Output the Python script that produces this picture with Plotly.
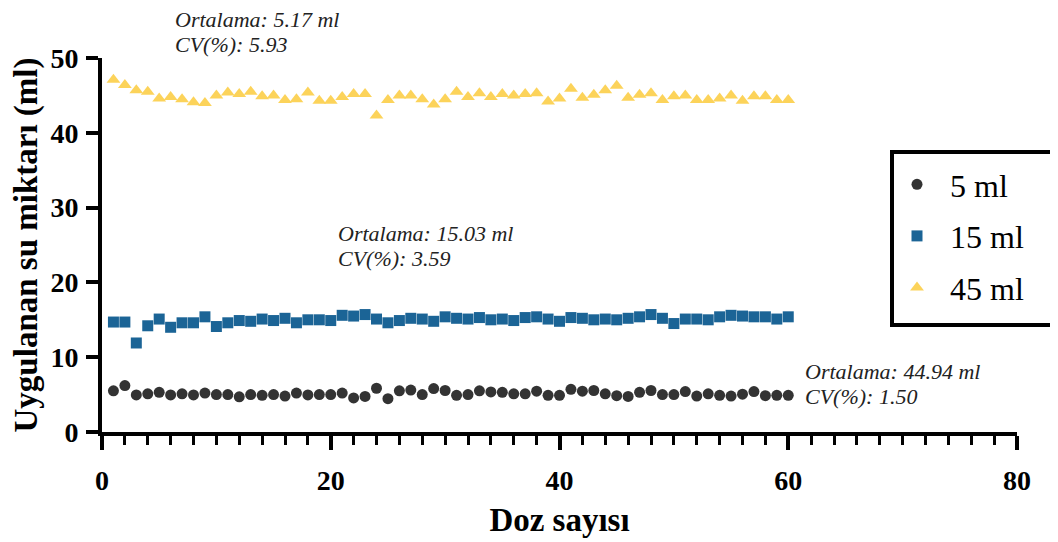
import plotly.graph_objects as go

doses = list(range(1, 61))

vals_5ml = [5.5, 6.2, 4.95, 5.1, 5.3, 4.95, 5.1, 4.95, 5.2, 5.0,
            5.0, 4.7, 5.0, 4.9, 5.0, 4.8, 5.2, 4.95, 5.0, 5.0,
            5.2, 4.55, 4.75, 5.85, 4.45, 5.5, 5.6, 5.0, 5.8, 5.55,
            4.9, 5.0, 5.5, 5.35, 5.3, 5.1, 5.1, 5.45, 4.9, 4.9,
            5.7, 5.45, 5.55, 5.1, 4.85, 4.75, 5.3, 5.55, 5.0, 5.0,
            5.4, 4.8, 5.1, 4.9, 4.8, 5.05, 5.4, 4.85, 4.9, 4.9]

vals_15ml = [14.7, 14.7, 11.9, 14.2, 15.1, 14.0, 14.6, 14.6, 15.4, 14.1,
             14.6, 14.9, 14.8, 15.1, 14.9, 15.2, 14.6, 15.0, 15.0, 14.9,
             15.6, 15.5, 15.7, 15.1, 14.6, 14.9, 15.2, 15.1, 14.8, 15.4,
             15.2, 15.1, 15.3, 15.0, 15.1, 14.9, 15.3, 15.4, 15.1, 14.8,
             15.3, 15.2, 15.0, 15.1, 15.0, 15.2, 15.4, 15.7, 15.2, 14.5,
             15.1, 15.1, 15.0, 15.4, 15.6, 15.5, 15.4, 15.4, 15.1, 15.4]

vals_45ml = [47.1, 46.4, 45.7, 45.5, 44.6, 44.8, 44.5, 44.1, 44.0, 45.0,
             45.4, 45.2, 45.5, 44.9, 45.0, 44.4, 44.5, 45.4, 44.3, 44.3,
             44.8, 45.2, 45.2, 42.3, 44.4, 45.0, 45.0, 44.5, 43.8, 44.5,
             45.5, 44.8, 45.3, 44.8, 45.2, 45.0, 45.2, 45.3, 44.2, 44.6,
             45.9, 44.7, 45.1, 45.7, 46.3, 44.7, 45.1, 45.3, 44.4, 44.9,
             45.0, 44.4, 44.4, 44.6, 45.0, 44.3, 44.9, 44.9, 44.4, 44.4]

series_names = ["5 ml", "15 ml", "45 ml"]
x_tick_vals = [0, 20, 40, 60, 80]
y_tick_vals = [0, 10, 20, 30, 40, 50]

# summary notes: (line1, line2)
notes = [
    ("Ortalama: 5.17 ml", "CV(%): 5.93"),
    ("Ortalama: 15.03 ml", "CV(%): 3.59"),
    ("Ortalama: 44.94 ml", "CV(%): 1.50"),
]

SERIF = "Liberation Serif, Times New Roman, serif"

# the page body has an 8px margin, so the figure starts at (8, 8) in the window
OFF = 8
W, H = 1058 - OFF, 542 - OFF
# plot area edges in window pixels
PX_LEFT, PX_RIGHT, PX_TOP, PX_BOTTOM = 102, 1017, 58, 432
L = PX_LEFT - OFF
T = PX_TOP - OFF
R = W - (PX_RIGHT - OFF)
B = H - (PX_BOTTOM - OFF)
PW, PH = PX_RIGHT - PX_LEFT, PX_BOTTOM - PX_TOP


def px_to_paper_x(px):
    return (px - PX_LEFT) / PW


def px_to_paper_y(py):
    return (PX_BOTTOM - py) / PH


fig = go.Figure()
fig.add_trace(go.Scatter(x=doses, y=vals_5ml, mode="markers", name=series_names[0],
                         legendgroup="a",
                         marker=dict(symbol="circle", size=11, color="#333333")))
fig.add_trace(go.Scatter(x=doses, y=vals_15ml, mode="markers", name=series_names[1],
                         legendgroup="b",
                         marker=dict(symbol="square", size=11, color="#1b6496")))
fig.add_trace(go.Scatter(x=doses, y=vals_45ml, mode="markers", name=series_names[2],
                         legendgroup="c",
                         marker=dict(symbol="triangle-up", size=12, color="#fcd35a")))

# note positions (left px, top px of first line) in window pixels
note_pos = [(173, 5), (336, 219), (803, 357)]
for (l1, l2), (nx, ny) in zip(notes, note_pos):
    for k, line in enumerate((l1, l2)):
        fig.add_annotation(x=px_to_paper_x(nx), y=px_to_paper_y(ny + 25 * k),
                           xref="paper", yref="paper", text=line, showarrow=False,
                           xanchor="left", yanchor="top", align="left",
                           font=dict(family=SERIF, size=22, color="#222222", style="italic"))

# legend frame
fig.add_shape(type="rect", xref="paper", yref="paper",
              x0=px_to_paper_x(892), x1=px_to_paper_x(1055),
              y0=px_to_paper_y(325), y1=px_to_paper_y(152),
              line=dict(color="black", width=4), fillcolor="rgba(0,0,0,0)", layer="above")

fig.update_layout(
    width=W, height=H,
    margin=dict(l=L, r=R, t=T, b=B, autoexpand=False),
    plot_bgcolor="white", paper_bgcolor="white",
    showlegend=True,
    legend=dict(x=px_to_paper_x(884), y=px_to_paper_y(157), xanchor="left", yanchor="top",
                borderwidth=0, bgcolor="rgba(0,0,0,0)",
                font=dict(family=SERIF, size=32, color="black"),
                tracegroupgap=7, itemwidth=56, traceorder="grouped"),
    xaxis=dict(range=[0, 80], tickvals=x_tick_vals, showgrid=False, zeroline=False,
               automargin=False,
               showline=True, linecolor="black", linewidth=4,
               ticks="outside", ticklen=14, tickwidth=4, tickcolor="black",
               minor=dict(dtick=2, ticks="outside", ticklen=9, tickwidth=3, tickcolor="black",
                          showgrid=False),
               tickfont=dict(family=SERIF, size=28, color="black", weight="bold"),
               ticklabelstandoff=6,
               title=dict(text="Doz sayısı", standoff=14,
                          font=dict(family=SERIF, size=33, color="black", weight="bold"))),
    yaxis=dict(range=[0, 50], tickvals=y_tick_vals, showgrid=False, zeroline=False,
               automargin=False,
               showline=True, linecolor="black", linewidth=4,
               ticks="outside", ticklen=12, tickwidth=4, tickcolor="black",
               tickfont=dict(family=SERIF, size=28, color="black", weight="bold"),
               ticklabelstandoff=2,
               title=dict(text="Uygulanan su miktarı (ml)", standoff=6,
                          font=dict(family=SERIF, size=33, color="black", weight="bold"))),
)

fig.write_html("out.html")
